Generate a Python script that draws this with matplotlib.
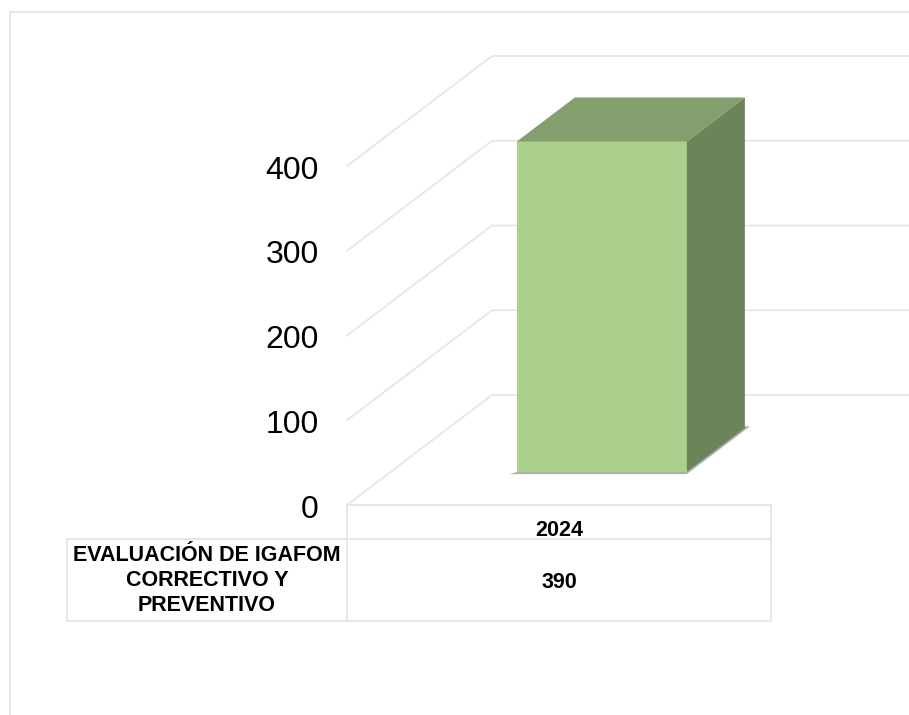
import matplotlib
matplotlib.use("Agg")
import matplotlib.pyplot as plt
from matplotlib.patches import Polygon

plt.rcParams['font.family'] = ['Liberation Sans', 'DejaVu Sans']

categories = ['2024']
values = [390]
row_label = 'EVALUACIÓN DE IGAFOM\nCORRECTIVO Y\nPREVENTIVO'
ticks = [0, 100, 200, 300, 400]

line_col = '#E2E6EE'
front_col = '#ABD08C'
top_col = '#829F6D'
side_col = '#6C8459'
shadow_col = '#9A9A9A'

W, H = 909, 715
fig = plt.figure(figsize=(W / 100, H / 100), dpi=100)

# pixel layer for the frame and the table under the chart
bg = fig.add_axes([0, 0, 1, 1])
bg.set_xlim(0, W)
bg.set_ylim(H, 0)
bg.axis('off')

bg.plot([10, 10, W], [H, 12, 12], color=line_col, lw=1.3)

# table
bg.plot([347, 771, 771, 347, 347], [505, 505, 620.5, 620.5, 505], color=line_col, lw=1.4)
bg.plot([67, 771], [539, 539], color=line_col, lw=1.4)
bg.plot([67, 347], [620.5, 620.5], color=line_col, lw=1.4)
bg.plot([67, 67], [539, 620.5], color=line_col, lw=1.4)
bg.text(559, 530, categories[0], ha='center', va='center', fontsize=15.5, fontweight='bold', color='black')
bg.text(559, 582, str(values[0]), ha='center', va='center', fontsize=15.5, fontweight='bold', color='black')
bg.text(207, 580.5, row_label, ha='center', va='center', fontsize=15.5, fontweight='bold', color='black', linespacing=1.25)

# chart layer: x in category units, y in data units, front plane fitted to the picture
ax = fig.add_axes([0, 0, 1, 1])
ax.patch.set_alpha(0)
x_px = 424.0        # pixels per category
y_px = 0.8475       # pixels per unit
ax.set_xlim((0 - 347) / x_px - 0.5, (W - 347) / x_px - 0.5)
ax.set_ylim((505 - H) / y_px, 505 / y_px)
ax.axis('off')

depth_x = 145 / x_px
depth_y = 110 / y_px


def proj(x, y, d):
    return (x + d * depth_x, y + d * depth_y)


# gridlines: floor/side wall then back wall
right_edge = ax.get_xlim()[1]
for t in ticks:
    p0 = proj(-0.5, t, 0)
    p1 = proj(-0.5, t, 1)
    ax.plot([p0[0], p1[0], right_edge], [p0[1], p1[1], p1[1]], color=line_col, lw=1.3, zorder=1)
    ax.text(p0[0] - 28 / x_px, t - 5.5, str(t), ha='right', va='center', fontsize=23, color='black')

# bar
width = 0.4
d0, d1 = 0.3, 0.7
for i, v in enumerate(values):
    xl, xr = i - width / 2 - 0.002, i + width / 2 - 0.001
    # thin shadow along the foot of the bar
    ax.add_patch(Polygon([proj(xl - 0.018, -2.5, d0), proj(xr, -2.5, d0), proj(xr + 0.012, 2, d1), proj(xr, 2, d1),
                          proj(xr, 0, d0), proj(xl, 0, d0)], closed=True, fc=shadow_col, ec='none', alpha=0.8, zorder=3))
    ax.add_patch(Polygon([proj(xl, 0, d0), proj(xr, 0, d0), proj(xr, v, d0), proj(xl, v, d0)],
                         closed=True, fc=front_col, ec='none', zorder=4))
    ax.add_patch(Polygon([proj(xr, 0, d0), proj(xr, 0, d1), proj(xr, v, d1), proj(xr, v, d0)],
                         closed=True, fc=side_col, ec='none', zorder=4))
    ax.add_patch(Polygon([proj(xl, v, d0), proj(xr, v, d0), proj(xr, v, d1), proj(xl, v, d1)],
                         closed=True, fc=top_col, ec='none', zorder=4))

fig.savefig('out.png', dpi=100, facecolor='white')
